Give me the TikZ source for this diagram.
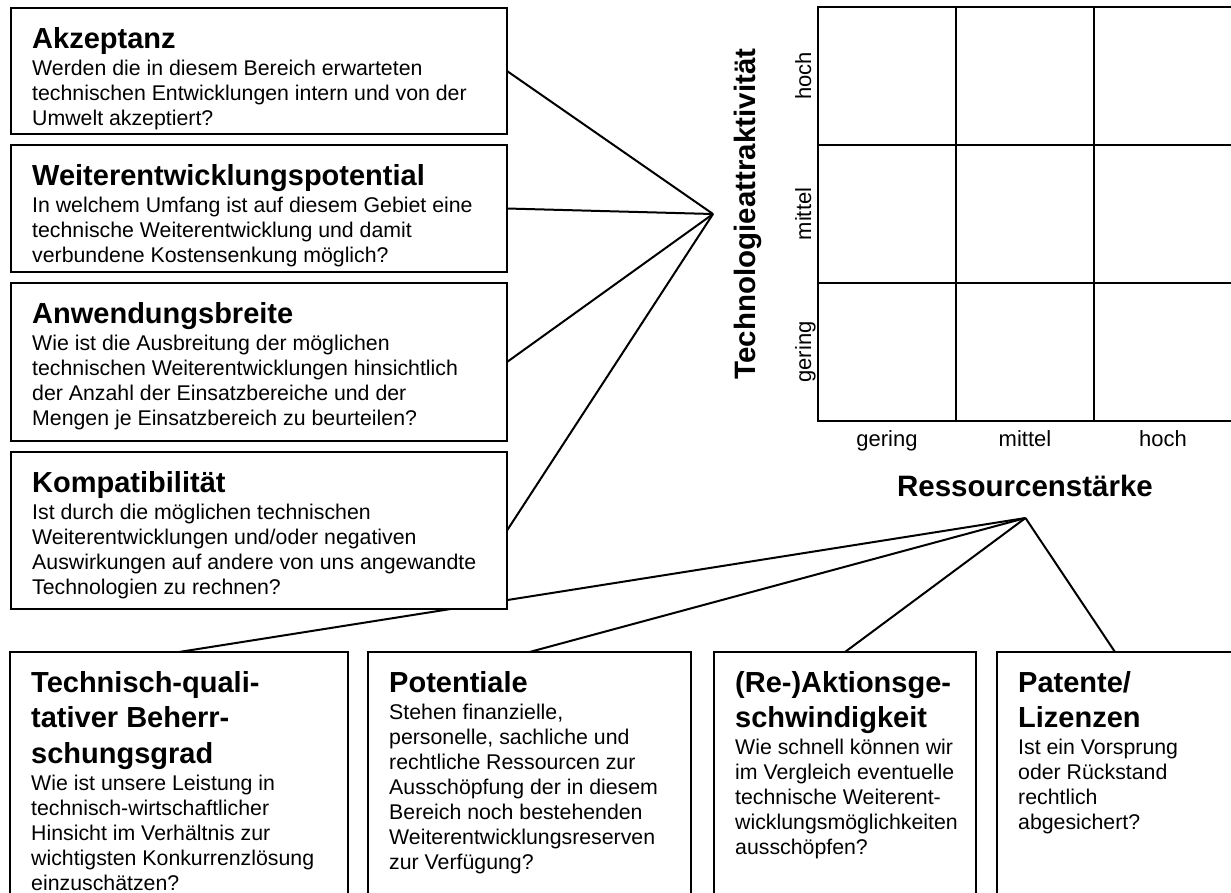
\documentclass[tikz,border=0pt]{standalone}
\usepackage{fontspec}
\setmainfont{Liberation Sans}
\pgfdeclarelayer{back}
\pgfsetlayers{back,main}

% Writes the heading lines and the question lines of one card
\newcommand{\cardtext}[3]{%
  \foreach \t [count=\i] in {#2} {
    \pgfmathsetmacro{\cardy}{40+35.5*(\i-1)}
    \node[titletext] (#1-t\i) at ([shift={(21,\cardy)}]#1.north west) {\t};
    \xdef\cardntitle{\i}
  }
  \foreach \t [count=\i] in {#3} {
    \pgfmathsetmacro{\cardy}{40+35.5*(\cardntitle-1)+27+25*(\i-1)}
    \node[bodytext] (#1-b\i) at ([shift={(21,\cardy)}]#1.north west) {\t};
  }
}

\begin{document}
\begin{tikzpicture}[x=1pt,y=-1pt,
  card/.style={draw=black, line width=2pt, fill=white, rectangle,
               inner sep=0pt, outer sep=0pt, anchor=north west},
  titletext/.style={anchor=base west, inner sep=0pt,
                    font=\fontsize{29}{35}\selectfont\bfseries},
  bodytext/.style={anchor=base west, inner sep=0pt,
                   font=\fontsize{21.3}{25}\selectfont},
  axislabel/.style={anchor=base, inner sep=0pt,
                    font=\fontsize{22}{26}\selectfont},
  axistitle/.style={anchor=base, inner sep=0pt,
                    font=\fontsize{29.5}{35}\selectfont\bfseries},
  link/.style={draw=black, line width=2pt},
  gridline/.style={draw=black, line width=2pt}]

\useasboundingbox (0,0) rectangle (1231,892);

% criteria of technology attractiveness
\node[card, minimum width=496, minimum height=126] (akz)  at (11,8)   {};
\node[card, minimum width=496, minimum height=127] (wep)  at (11,145) {};
\node[card, minimum width=496, minimum height=158] (awb)  at (11,283) {};
\node[card, minimum width=496, minimum height=157] (komp) at (11,452) {};

% criteria of resource strength
\node[card, minimum width=338, minimum height=260] (tq)  at (10,652)  {};
\node[card, minimum width=323, minimum height=260] (pot) at (368,652) {};
\node[card, minimum width=262, minimum height=260] (rea) at (714,652) {};
\node[card, minimum width=236, minimum height=260] (pat) at (997,652) {};

\cardtext{akz}{Akzeptanz}{
  {Werden die in diesem Bereich erwarteten},
  {technischen Entwicklungen intern und von der},
  {Umwelt akzeptiert?}}
\cardtext{wep}{Weiterentwicklungspotential}{
  {In welchem Umfang ist auf diesem Gebiet eine},
  {technische Weiterentwicklung und damit},
  {verbundene Kostensenkung möglich?}}
\cardtext{awb}{Anwendungsbreite}{
  {Wie ist die Ausbreitung der möglichen},
  {technischen Weiterentwicklungen hinsichtlich},
  {der Anzahl der Einsatzbereiche und der},
  {Mengen je Einsatzbereich zu beurteilen?}}
\cardtext{komp}{Kompatibilität}{
  {Ist durch die möglichen technischen},
  {Weiterentwicklungen und/oder negativen},
  {Auswirkungen auf andere von uns angewandte},
  {Technologien zu rechnen?}}

\cardtext{tq}{{Technisch-quali-},{tativer Beherr-},{schungsgrad}}{
  {Wie ist unsere Leistung in},
  {technisch-wirtschaftlicher},
  {Hinsicht im Verhältnis zur},
  {wichtigsten Konkurrenzlösung},
  {einzuschätzen?}}
\cardtext{pot}{Potentiale}{
  {Stehen finanzielle,},
  {personelle, sachliche und},
  {rechtliche Ressourcen zur},
  {Ausschöpfung der in diesem},
  {Bereich noch bestehenden},
  {Weiterentwicklungsreserven},
  {zur Verfügung?}}
\cardtext{rea}{{(Re-)Aktionsge-},{schwindigkeit}}{
  {Wie schnell können wir},
  {im Vergleich eventuelle},
  {technische Weiterent-},
  {wicklungsmöglichkeiten},
  {ausschöpfen?}}
\cardtext{pat}{{Patente/},{Lizenzen}}{
  {Ist ein Vorsprung},
  {oder Rückstand},
  {rechtlich},
  {abgesichert?}}

% fan points where the criteria meet the matrix axes
\coordinate (fanL) at (713,214);
\coordinate (fanB) at (1025.5,518);

\begin{pgfonlayer}{back}
  \fill[white] (0,0) rectangle (1231,892);
  \foreach \b in {akz,wep,awb,komp} \draw[link] (\b.east) -- (fanL);
  \foreach \b in {tq,pot,rea,pat} \draw[link] (\b.north) -- (fanB);
\end{pgfonlayer}

% 3x3 portfolio matrix
\draw[gridline] (818,7) rectangle (1232,421);
\foreach \i in {1,2} {
  \draw[gridline] (818+138*\i,7) -- (818+138*\i,421);
  \draw[gridline] (818,7+138*\i) -- (1232,7+138*\i);
}

% axis labels
\node[axistitle, rotate=90] (ytitle) at (755,214) {Technologieattraktivität};
\node[axislabel, rotate=90] (yhoch)   at (811,76)  {hoch};
\node[axislabel, rotate=90] (ymittel) at (811,214) {mittel};
\node[axislabel, rotate=90] (ygering) at (811,352) {gering};
\node[axislabel] (xgering) at (887,446)  {gering};
\node[axislabel] (xmittel) at (1025,446) {mittel};
\node[axislabel] (xhoch)   at (1163,446) {hoch};
\node[axistitle] (xtitle)  at (1025,496) {Ressourcenstärke};

\end{tikzpicture}
\end{document}
